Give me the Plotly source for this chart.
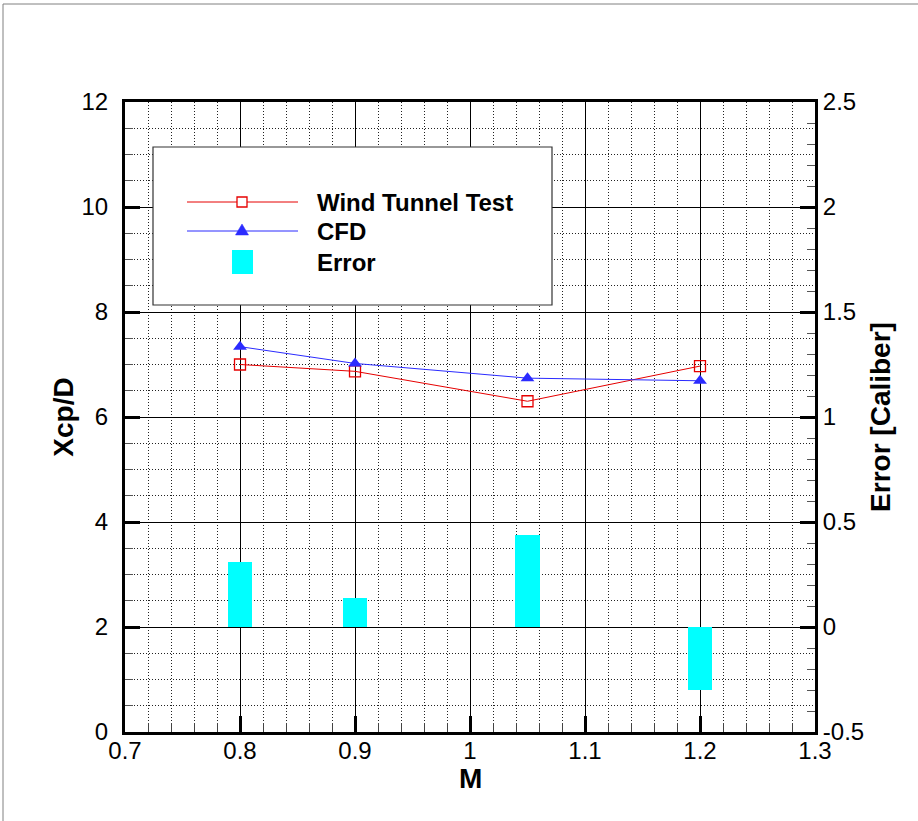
import plotly.graph_objects as go

# ---- data ----
mach = [0.8, 0.9, 1.05, 1.2]
wind_tunnel = [7.0, 6.87, 6.30, 6.97]
cfd = [7.34, 7.02, 6.74, 6.69]
error = [0.31, 0.14, 0.44, -0.30]

x_ticks = [0.7, 0.8, 0.9, 1.0, 1.1, 1.2, 1.3]
y_ticks = [0, 2, 4, 6, 8, 10, 12]
y2_ticks = [-0.5, 0, 0.5, 1, 1.5, 2, 2.5]

legend_names = ["Wind Tunnel Test", "CFD", "Error"]

# ---- layout geometry (pixels) ----
W, H = 918, 821
L, R, T, B = 125, 815, 102, 732
FONT = "Liberation Sans, Arial, sans-serif"
RED = "#e60000"
BLUE = "#2b2bff"
CYAN = "#00ffff"


def px(x):
    return (x - L) / (R - L)


def py(y):
    return (B - y) / (B - T)


fig = go.Figure()

fig.add_trace(go.Bar(
    x=mach, y=error, yaxis="y2", name=legend_names[2],
    width=0.021, marker=dict(color=CYAN, line=dict(width=0)),
    showlegend=False,
))
fig.add_trace(go.Scatter(
    x=mach, y=wind_tunnel, name=legend_names[0], mode="lines+markers",
    line=dict(color=RED, width=1),
    marker=dict(symbol="square-open", size=11, color=RED, line=dict(width=1.3, color=RED)),
    showlegend=False,
))
fig.add_trace(go.Scatter(
    x=mach, y=cfd, name=legend_names[1], mode="lines+markers",
    line=dict(color=BLUE, width=1),
    marker=dict(symbol="triangle-up", size=12, color=BLUE),
    showlegend=False,
))

shapes = []
# outer frame of the image
shapes.append(dict(type="rect", xref="paper", yref="paper",
                   x0=px(3), x1=px(940), y0=py(840), y1=py(4),
                   line=dict(color="#808080", width=1), fillcolor="rgba(0,0,0,0)",
                   layer="above"))
# legend box
shapes.append(dict(type="rect", xref="paper", yref="paper",
                   x0=px(153), x1=px(552), y0=py(305), y1=py(147),
                   line=dict(color="#333333", width=1.2), fillcolor="white",
                   layer="above"))
# legend line samples
rows = [202, 231, 262]
for yy, col in zip(rows[:2], [RED, BLUE]):
    shapes.append(dict(type="line", xref="paper", yref="paper",
                       x0=px(187), x1=px(298), y0=py(yy), y1=py(yy),
                       line=dict(color=col, width=1), layer="above"))
# red open square
shapes.append(dict(type="rect", xref="paper", yref="paper",
                   x0=px(237), x1=px(247), y0=py(207), y1=py(197),
                   line=dict(color=RED, width=1.3), fillcolor="white", layer="above"))
# blue triangle
tri = "M {:.5f},{:.5f} L {:.5f},{:.5f} L {:.5f},{:.5f} Z".format(
    px(242), py(224), px(235.5), py(235), px(248.5), py(235))
shapes.append(dict(type="path", xref="paper", yref="paper", path=tri,
                   line=dict(color=BLUE, width=0.5), fillcolor=BLUE, layer="above"))
# cyan block
shapes.append(dict(type="rect", xref="paper", yref="paper",
                   x0=px(232), x1=px(253), y0=py(274), y1=py(250),
                   line=dict(width=0), fillcolor=CYAN, layer="above"))

annotations = []
for name, yy in zip(legend_names, rows):
    annotations.append(dict(xref="paper", yref="paper", x=px(315), y=py(yy),
                            text="<b>%s</b>" % name, showarrow=False,
                            xanchor="left", yanchor="middle",
                            font=dict(family=FONT, size=24, color="black")))

tick_font = dict(family=FONT, size=24, color="black")
title_font = dict(family=FONT, size=28, color="black")
GRID_DOT = "1px,2px"

# x-axis title placed as annotation for exact position
annotations.append(dict(xref="paper", yref="paper", x=px(470), y=py(778),
                        text="<b>M</b>", showarrow=False,
                        xanchor="center", yanchor="middle", font=title_font))

fig.update_layout(
    width=W, height=H,
    margin=dict(l=L, r=W - R, t=T, b=H - B, autoexpand=False),
    paper_bgcolor="white", plot_bgcolor="white",
    showlegend=False,
    bargap=0,
    shapes=shapes,
    annotations=annotations,
    xaxis=dict(
        range=[0.7, 1.3], tickmode="array", tickvals=x_ticks,
        ticktext=[("%g" % v) for v in x_ticks],
        showline=True, linecolor="black", linewidth=3, mirror=True,
        ticks="inside", ticklen=16, tickwidth=3, tickcolor="black",
        showgrid=True, gridcolor="black", gridwidth=1,
        zeroline=False,
        minor=dict(tick0=0.7, dtick=0.02, ticks="inside", ticklen=9, tickwidth=1,
                   tickcolor="#444444", showgrid=True, gridcolor="#222222",
                   gridwidth=1, griddash=GRID_DOT),
        tickfont=tick_font, ticklabelstandoff=-5,
    ),
    yaxis=dict(
        range=[0, 12], tickmode="array", tickvals=y_ticks,
        ticktext=[("%g" % v) for v in y_ticks],
        showline=True, linecolor="black", linewidth=3,
        ticks="inside", ticklen=15, tickwidth=3, tickcolor="black",
        showgrid=True, gridcolor="black", gridwidth=1,
        zeroline=False,
        minor=dict(tick0=0, dtick=0.5, ticks="inside", ticklen=8, tickwidth=1,
                   tickcolor="#555555", showgrid=True, gridcolor="#222222",
                   gridwidth=1, griddash=GRID_DOT),
        tickfont=tick_font, ticklabelstandoff=9,
        title=dict(text="<b>Xcp/D</b>", font=title_font, standoff=0),
    ),
    yaxis2=dict(
        range=[-0.5, 2.5], overlaying="y", side="right", anchor="x",
        tickmode="array", tickvals=y2_ticks,
        ticktext=[("%g" % v) for v in y2_ticks],
        showline=True, linecolor="black", linewidth=3,
        ticks="inside", ticklen=15, tickwidth=3, tickcolor="black",
        showgrid=False, zeroline=False,
        minor=dict(tick0=-0.5, dtick=0.1, ticks="inside", ticklen=8, tickwidth=1,
                   tickcolor="#555555", showgrid=False),
        tickfont=tick_font, ticklabelstandoff=0,
        title=dict(text="<b>Error [Caliber]</b>", font=title_font, standoff=8),
    ),
)

fig.write_html("out.html", config={"displayModeBar": False},
               post_script="document.body.style.margin='0px';")
